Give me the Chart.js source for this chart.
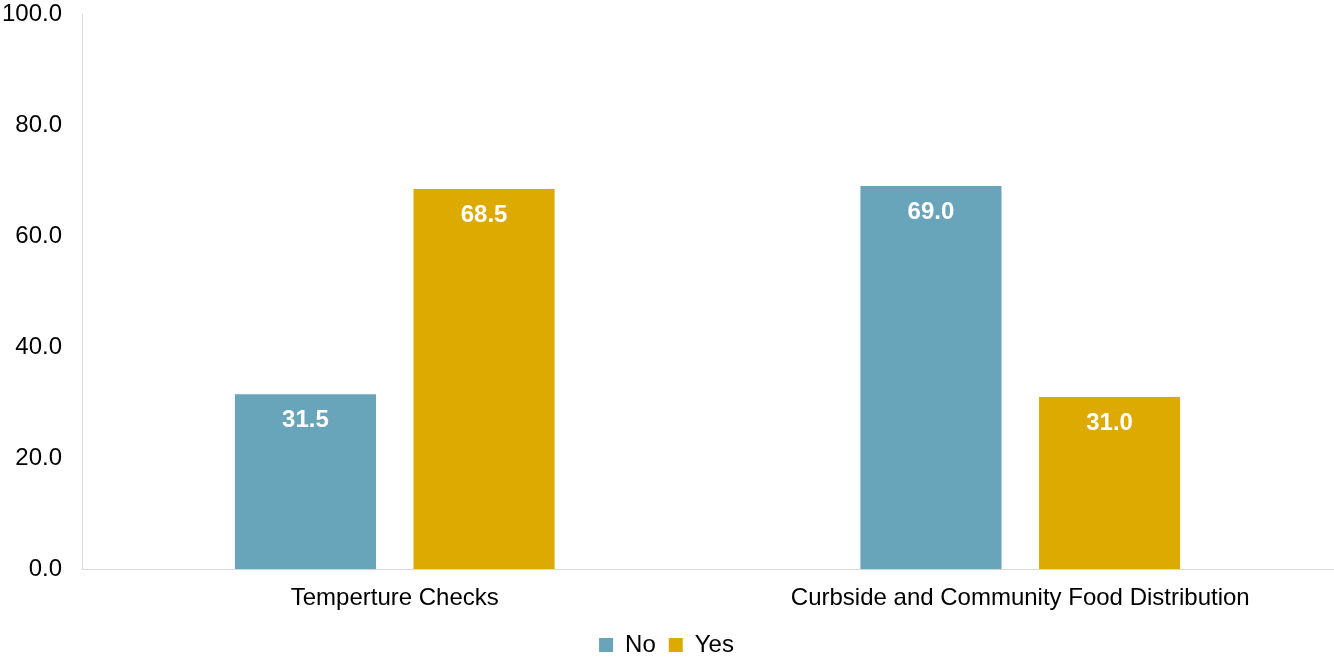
<!DOCTYPE html>
<html>
<head>
<meta charset="utf-8">
<script src="https://cdn.jsdelivr.net/npm/chart.js@4"></script>
<style>
  html, body { margin: 0; padding: 0; background: #fff; }
  #wrap { width: 1334px; height: 660px; }
</style>
</head>
<body>
<div id="wrap"><canvas id="surveyChart"></canvas></div>
<script>
// Survey results (percent)
const categories = ["Temperture Checks", "Curbside and Community Food Distribution"];
const noValues = [31.5, 69.0];
const yesValues = [68.5, 31.0];
const yTicks = [0, 20, 40, 60, 80, 100];

Chart.defaults.font.family = "'Liberation Sans', Arial, sans-serif";
Chart.defaults.font.size = 24;
Chart.defaults.color = "#000";

// Writes each bar's value inside the top of the bar
const valueLabels = {
  id: "valueLabels",
  afterDatasetsDraw(chart) {
    const ctx = chart.ctx;
    ctx.save();
    ctx.font = "bold 24px 'Liberation Sans', Arial, sans-serif";
    ctx.fillStyle = "#fff";
    ctx.textAlign = "center";
    ctx.textBaseline = "middle";
    chart.data.datasets.forEach((ds, i) => {
      chart.getDatasetMeta(i).data.forEach((bar, j) => {
        ctx.fillText(ds.data[j].toFixed(1), bar.x, bar.y + 26);
      });
    });
    ctx.restore();
  },
};

new Chart(document.getElementById("surveyChart"), {
  type: "bar",
  data: {
    labels: categories,
    datasets: [
      { label: "No", data: noValues, backgroundColor: "#68A4BA" },
      { label: "Yes", data: yesValues, backgroundColor: "#DCAA00" },
    ],
  },
  options: {
    responsive: true,
    maintainAspectRatio: false,
    animation: false,
    categoryPercentage: 0.571,
    barPercentage: 0.79,
    layout: { padding: { top: 14, right: 1, bottom: -7, left: 0 } },
    scales: {
      x: {
        grid: { display: false },
        border: { color: "#D9D9D9", width: 1 },
        ticks: { padding: 7 },
      },
      y: {
        min: 0,
        max: 100,
        grid: { display: false },
        border: { color: "#D9D9D9", width: 1 },
        afterBuildTicks(scale) {
          scale.ticks = yTicks.map((v) => ({ value: v }));
        },
        afterFit(scale) {
          scale.width = 82;
          scale.paddingTop = 0;
          scale.paddingBottom = 0;
        },
        ticks: {
          padding: 12,
          callback: (v) => Number(v).toFixed(1),
        },
      },
    },
    plugins: {
      tooltip: { enabled: false },
      legend: {
        position: "bottom",
        labels: { boxWidth: 14, boxHeight: 14, padding: 13 },
      },
    },
  },
  plugins: [valueLabels],
});
</script>
</body>
</html>
